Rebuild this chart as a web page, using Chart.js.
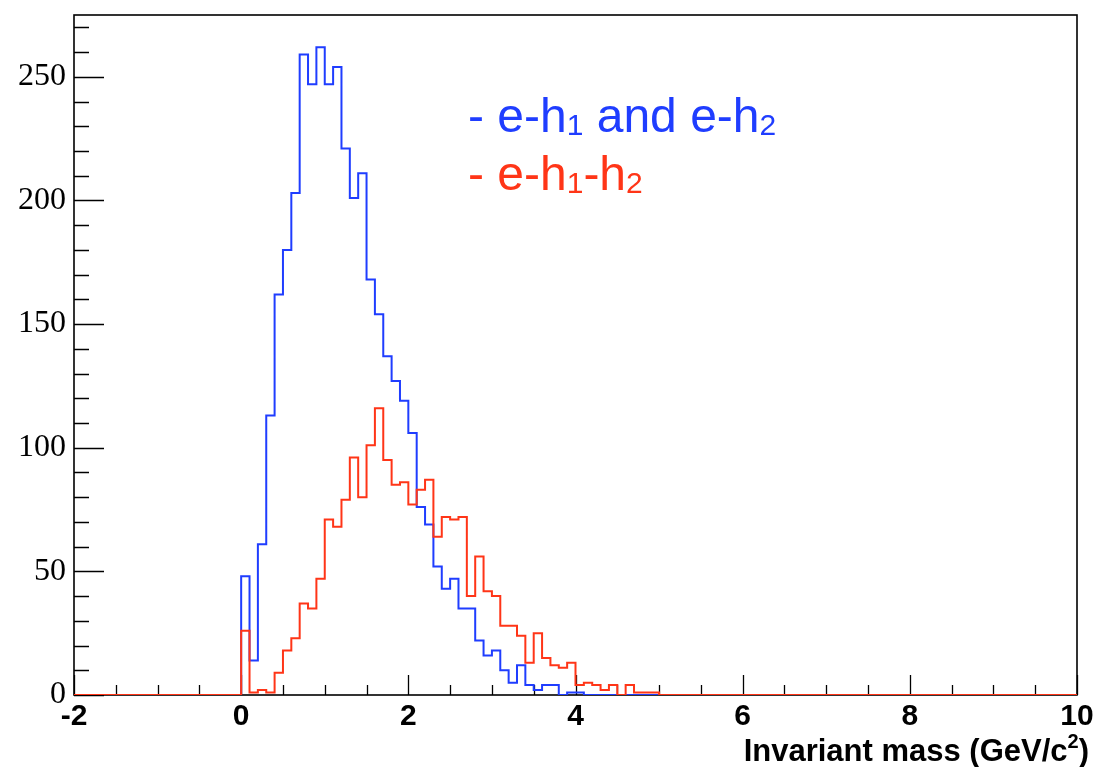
<!DOCTYPE html>
<html>
<head>
<meta charset="utf-8">
<title>Invariant mass</title>
<script src="https://cdn.jsdelivr.net/npm/chart.js@4.4.1/dist/chart.umd.min.js"></script>
<style>
  body { margin: 0; background: #fff; }
  #wrap { width: 1096px; height: 767px; position: relative; }
</style>
</head>
<body>
<div id="wrap"><canvas id="myChart"></canvas></div>
<script>
// histogram binning (GeV/c^2), bins of 0.1 starting at 0
const xMin = -2, xMax = 10;
const firstEdge = 0.0;
const binWidth = 0.1;
const yMax = 275;

// counts per bin, from 0.0 up to 5.0, everything else is empty
const blueCounts = [
  48, 14, 61, 113, 162, 180, 203, 259, 247, 262,
  247, 254, 221, 201, 211, 168, 154, 137, 127, 119,
  106, 76, 69, 52, 43, 47, 35, 35, 22, 16,
  18, 10, 5, 12, 4, 2, 4, 4, 0, 1,
  1, 0, 0, 0, 0, 0, 0, 0, 0, 0
];
const redCounts = [
  26, 1, 2, 1, 9, 18, 23, 37, 35, 47,
  71, 68, 79, 96, 80, 101, 116, 95, 85, 86,
  77, 83, 87, 64, 72, 71, 72, 40, 56, 42,
  40, 28, 28, 24, 13, 25, 15, 12, 11, 13,
  4, 5, 4, 2, 4, 0, 4, 1, 1, 1
];

// legend lines: [text, isSubscript]
const blueLabel = [['- e-h', false], ['1', true], [' and e-h', false], ['2', true]];
const redLabel = [['- e-h', false], ['1', true], ['-h', false], ['2', true]];
const xTitle = [['Invariant mass (GeV/c', false], ['2', true], [')', false]];

const blueColor = '#1f3dff';
const redColor = '#ff3517';

// step points: left edge of every bin, then back to zero
function histPoints(counts) {
  const pts = [{x: xMin, y: 0}];
  for (let i = 0; i < counts.length; i++) {
    pts.push({x: firstEdge + i * binWidth, y: counts[i]});
  }
  pts.push({x: firstEdge + counts.length * binWidth, y: 0});
  pts.push({x: xMax, y: 0});
  return pts;
}

// ROOT style frame with inward ticks
const frameTicks = {
  id: 'frameTicks',
  beforeDatasetsDraw(chart) {
    const {ctx, chartArea: a, scales: {x, y}} = chart;
    ctx.save();
    ctx.strokeStyle = '#000';
    ctx.lineWidth = 1.6;
    ctx.strokeRect(a.left, a.top, a.right - a.left, a.bottom - a.top);
    ctx.lineWidth = 1.3;
    ctx.beginPath();
    for (let k = 0; k <= (xMax - xMin) / 0.5; k++) {
      const v = xMin + k * 0.5;
      const px = Math.round(x.getPixelForValue(v)) + 0.5;
      const len = (k % 4 === 0) ? 20 : 10;
      ctx.moveTo(px, a.bottom);
      ctx.lineTo(px, a.bottom - len);
    }
    for (let v = 0; v <= yMax; v += 10) {
      const py = Math.round(y.getPixelForValue(v)) + 0.5;
      const len = (v % 50 === 0) ? 30 : 15;
      ctx.moveTo(a.left, py);
      ctx.lineTo(a.left + len, py);
    }
    ctx.stroke();
    ctx.restore();
  },
  afterDraw(chart) {
    const ctx = chart.ctx;
    drawParts(ctx, blueLabel, 468, 132, 48, 30, 3, blueColor, 'left', 'normal');
    drawParts(ctx, redLabel, 468, 190, 48, 30, 3, redColor, 'left', 'normal');
    drawParts(ctx, xTitle, 1089, 761, 31, 20, -13, '#000', 'right', 'bold');
  }
};

function drawParts(ctx, parts, x, y, size, subSize, subShift, color, align, weight) {
  ctx.save();
  ctx.fillStyle = color;
  ctx.textBaseline = 'alphabetic';
  ctx.textAlign = 'left';
  const fontFor = sub => weight + ' ' + (sub ? subSize : size) + 'px "Liberation Sans", Arial, sans-serif';
  let total = 0;
  parts.forEach(([t, sub]) => { ctx.font = fontFor(sub); total += ctx.measureText(t).width; });
  let cx = align === 'right' ? x - total : x;
  parts.forEach(([t, sub]) => {
    ctx.font = fontFor(sub);
    ctx.fillText(t, cx, sub ? y + subShift : y);
    cx += ctx.measureText(t).width;
  });
  ctx.restore();
}

const data = {
  datasets: [{
    label: 'e-h1 and e-h2',
    data: histPoints(blueCounts),
    borderColor: blueColor,
    borderWidth: 2,
    stepped: true,
    pointRadius: 0,
    fill: false,
    order: 1
  }, {
    label: 'e-h1-h2',
    data: histPoints(redCounts),
    borderColor: redColor,
    borderWidth: 2,
    stepped: true,
    pointRadius: 0,
    fill: false,
    order: 0
  }]
};

const config = {
  type: 'line',
  data: data,
  options: {
    responsive: true,
    maintainAspectRatio: false,
    animation: false,
    layout: { padding: { top: 15, right: 19, left: 0, bottom: 0 } },
    plugins: { legend: { display: false }, tooltip: { enabled: false } },
    scales: {
      x: {
        type: 'linear',
        min: xMin,
        max: xMax,
        grid: { display: false, drawTicks: false },
        border: { display: false },
        ticks: {
          stepSize: 2,
          padding: 4,
          maxRotation: 0,
          color: '#000',
          font: { family: '"Liberation Sans", Arial, sans-serif', size: 30, weight: 'bold' }
        },
        afterFit: s => { s.height = 72; s.paddingLeft = 0; s.paddingRight = 0; }
      },
      y: {
        min: 0,
        max: yMax,
        grid: { display: false, drawTicks: false },
        border: { display: false },
        ticks: {
          stepSize: 50,
          includeBounds: false,
          padding: 8,
          color: '#000',
          font: { family: '"Liberation Serif", "Times New Roman", serif', size: 32 }
        },
        afterFit: s => { s.width = 74; s.paddingTop = 0; s.paddingBottom = 0; }
      }
    }
  },
  plugins: [frameTicks]
};

new Chart(document.getElementById('myChart'), config);
</script>
</body>
</html>
